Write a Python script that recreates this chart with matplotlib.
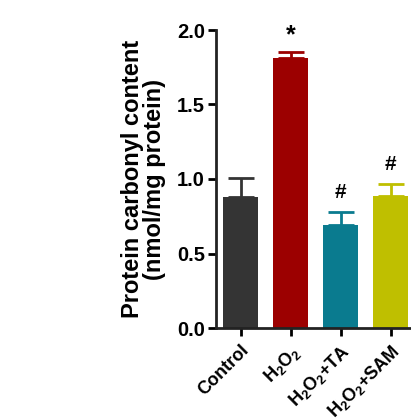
import matplotlib
matplotlib.use("Agg")
import matplotlib.pyplot as plt

categories = ["Control", "H$_2$O$_2$", "H$_2$O$_2$+TA", "H$_2$O$_2$+SAM"]
values = [0.877, 1.814, 0.693, 0.884]
errors = [0.128, 0.041, 0.083, 0.080]
colors = ["#343434", "#9c0000", "#0a7b8f", "#bfbf00"]
marks = ["", "*", "#", "#"]
yticks = [0.0, 0.5, 1.0, 1.5, 2.0]
ytick_labels = ["0.0", "0.5", "1.0", "1.5", "2.0"]

plt.rcParams["font.family"] = ["Liberation Sans", "DejaVu Sans"]
plt.rcParams["font.weight"] = "bold"
plt.rcParams["mathtext.fontset"] = "custom"
plt.rcParams["mathtext.rm"] = "Liberation Sans:bold"
plt.rcParams["mathtext.bf"] = "Liberation Sans:bold"
plt.rcParams["mathtext.it"] = "Liberation Sans:bold"
plt.rcParams["mathtext.default"] = "bf"

W, H = 411, 419
fig = plt.figure(figsize=(W / 100, H / 100), dpi=100)
ax = fig.add_axes([216 / W, (H - 328) / H, (416 - 216) / W, 298 / H])

x = list(range(len(categories)))
ax.bar(x, values, width=0.7, color=colors, zorder=2)
for xi, v, e, c in zip(x, values, errors, colors):
    ax.errorbar(xi, v, yerr=[[0], [e]], fmt="none", ecolor=c, elinewidth=2,
                capsize=9.5, capthick=2, zorder=1)
for xi, v, e, m in zip(x, values, errors, marks):
    if m:
        fs = 18 if m == "*" else 15
        dy = 0.03 if m == "*" else 0.07
        ax.text(xi, v + e + dy, m, ha="center", va="bottom", fontsize=fs,
                fontweight="bold", color="black")

ax.set_xlim(-0.49, 3.51)
ax.set_ylim(0, 2.0)
ax.set_yticks(yticks)
ax.set_yticklabels(ytick_labels)
ax.set_xticks(x)
ax.set_xticklabels(categories, rotation=45, ha="right", rotation_mode="anchor")
for lab in ax.get_xticklabels() + ax.get_yticklabels():
    lab.set_fontweight("bold")
ax.tick_params(axis="y", labelsize=14.5, width=2, length=6, direction="out", pad=2)
ax.tick_params(axis="x", labelsize=13, width=2, length=6, direction="out", pad=4)
for s in ["top", "right"]:
    ax.spines[s].set_visible(False)
for s in ["left", "bottom"]:
    ax.spines[s].set_linewidth(2)
    ax.spines[s].set_color("#222222")

ax.set_ylabel("Protein carbonyl content\n(nmol/mg protein)", fontsize=17,
              fontweight="bold", linespacing=0.95, labelpad=8)

fig.savefig("out.png", dpi=100)
